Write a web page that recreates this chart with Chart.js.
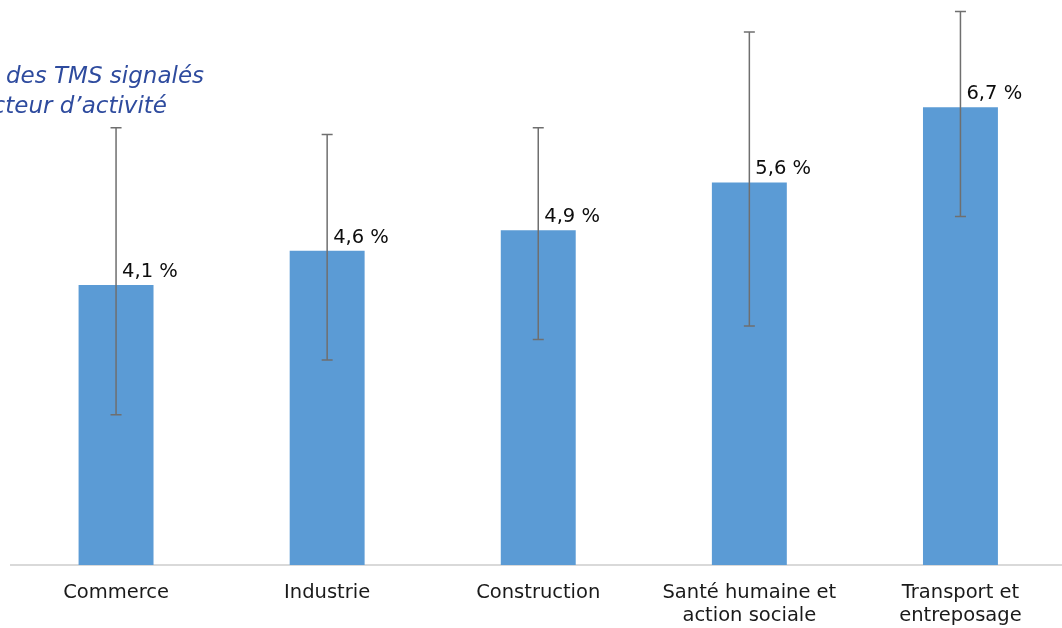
<!DOCTYPE html>
<html>
<head>
<meta charset="utf-8">
<script src="https://cdn.jsdelivr.net/npm/chart.js@4.4.1/dist/chart.umd.min.js"></script>
<style>
  html, body { margin: 0; padding: 0; background: #fff; overflow: hidden; }
  #wrap { width: 1072px; height: 628px; }
</style>
</head>
<body>
<div id="wrap"><canvas id="chart" width="1072" height="628"></canvas></div>
<script>
const categories = ['Commerce', 'Industrie', 'Construction', ['Santé humaine et', 'action sociale'], ['Transport et', 'entreposage']];
const values = [4.1, 4.6, 4.9, 5.6, 6.7];
const errLow = [2.2, 3.0, 3.3, 3.5, 5.1];
const errHigh = [6.4, 6.3, 6.4, 7.8, 8.1];
const valueLabels = ['4,1 %', '4,6 %', '4,9 %', '5,6 %', '6,7 %'];
const titleLines = ['des TMS signalés', 'secteur d’activité'];

const errorBars = {
  id: 'errorBars',
  afterDatasetsDraw(chart) {
    const { ctx, scales: { y } } = chart;
    const meta = chart.getDatasetMeta(0);
    ctx.save();
    meta.data.forEach((bar, i) => {
      const x = bar.x;
      const yTop = y.getPixelForValue(errHigh[i]);
      const yBot = y.getPixelForValue(errLow[i]);
      ctx.strokeStyle = '#6f6f6f';
      ctx.lineWidth = 1.5;
      ctx.beginPath();
      ctx.moveTo(x, yTop);
      ctx.lineTo(x, yBot);
      ctx.moveTo(x - 5.5, yTop);
      ctx.lineTo(x + 5.5, yTop);
      ctx.moveTo(x - 5.5, yBot);
      ctx.lineTo(x + 5.5, yBot);
      ctx.stroke();

      ctx.fillStyle = '#0d0d0d';
      ctx.font = '19.5px "DejaVu Sans"';
      ctx.textAlign = 'left';
      ctx.textBaseline = 'alphabetic';
      ctx.fillText(valueLabels[i], x + 6, bar.y - 8);
    });

    ctx.fillStyle = '#2e4b9e';
    ctx.font = 'italic 23px "DejaVu Sans"';
    ctx.textAlign = 'left';
    ctx.fillText(titleLines[0], 6, 83);
    ctx.textAlign = 'right';
    ctx.fillText(titleLines[1], 167, 113);
    ctx.restore();
  }
};

new Chart(document.getElementById('chart'), {
  type: 'bar',
  data: {
    labels: categories,
    datasets: [
      {
        data: values,
        backgroundColor: '#5b9bd5',
        barPercentage: 0.355,
        categoryPercentage: 1
      }
    ]
  },
  options: {
    responsive: false,
    animation: false,
    layout: { padding: { left: 10.5, right: 6, top: 0, bottom: 0 } },
    plugins: { legend: { display: false }, tooltip: { enabled: false } },
    scales: {
      x: {
        grid: { display: false, drawTicks: false },
        border: { display: true, color: '#d9d9d9', width: 2 },
        ticks: {
          color: '#1a1a1a',
          font: { family: 'DejaVu Sans', size: 19.5 },
          padding: 16,
          maxRotation: 0,
          autoSkip: false
        },
        afterFit: (scale) => { scale.height = 63; }
      },
      y: {
        display: false,
        min: 0,
        max: 8.27
      }
    }
  },
  plugins: [errorBars]
});
</script>
</body>
</html>
